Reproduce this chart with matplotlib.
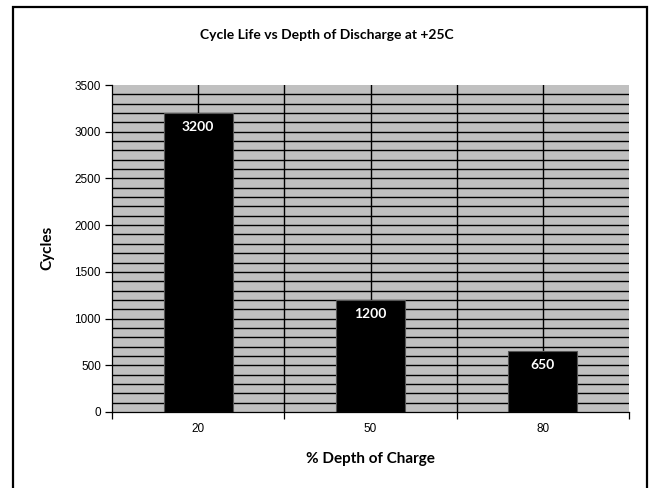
import matplotlib
matplotlib.use("Agg")
import matplotlib.pyplot as plt
from matplotlib.patches import Rectangle
import numpy as np

# data
depth = ["20", "50", "80"]
cycles = [3200, 1200, 650]

TITLE_FONT = ["Lato", "DejaVu Sans"]
TICK_FONT = ["Liberation Sans", "DejaVu Sans"]

fig = plt.figure(figsize=(6.53, 4.88), dpi=100)
ax = fig.add_axes([112 / 653, 1 - 412 / 488, 517 / 653, 327 / 488])

# outer chart border (Excel style frame)
fig.patches.append(Rectangle((13 / 653, -0.05), (647 - 13) / 653, 1.05 - 7 / 488,
                             transform=fig.transFigure, fill=False,
                             edgecolor="black", lw=1.6))

x = np.arange(len(depth))
ax.set_facecolor("#c0c0c0")
ax.set_xlim(-0.5, len(depth) - 0.5)
ax.set_ylim(0, 3500)

# horizontal gridlines every 100, vertical ones every half category
for yv in np.arange(100, 3500, 100):
    ax.axhline(yv, color="black", lw=1.0, zorder=1)
for xv in np.arange(0, len(depth) - 0.5, 0.5):
    ax.axvline(xv, color="black", lw=1.0, zorder=1)

ax.bar(x, cycles, width=0.4, color="black", edgecolor="#555555", lw=0.8, zorder=2)
for xi, c in zip(x, cycles):
    ax.text(xi, c - 85, str(c), ha="center", va="top", color="white",
            fontsize=10, fontweight="bold", family=TITLE_FONT, zorder=3)

ax.set_yticks(np.arange(0, 3501, 500))
ax.set_yticklabels([str(v) for v in range(0, 3501, 500)], family=TICK_FONT, fontsize=8.5)
ax.set_xticks(np.arange(-0.5, len(depth), 1.0))
ax.set_xticklabels([])
ax.set_xticks(x, minor=True)
ax.set_xticklabels(depth, minor=True, family=TICK_FONT, fontsize=8.5)
ax.tick_params(axis="x", which="minor", length=0, pad=8)
ax.tick_params(axis="x", which="major", length=5, width=0.9, direction="out")
ax.tick_params(axis="y", length=5, width=0.9, direction="out", pad=3)

for side in ["top", "right"]:
    ax.spines[side].set_visible(False)
ax.spines["left"].set_linewidth(0.9)
ax.spines["bottom"].set_linewidth(0.9)

fig.text(0.5, 1 - 35 / 488, "Cycle Life vs Depth of Discharge at +25C", ha="center",
         va="center", fontsize=10, fontweight="bold", family=TITLE_FONT)
fig.text(370 / 653, 1 - 459 / 488, "% Depth of Charge", ha="center", va="center",
         fontsize=11, fontweight="bold", family=TITLE_FONT)
fig.text(47 / 653, 1 - 248 / 488, "Cycles", ha="center", va="center", rotation=90,
         fontsize=11, fontweight="bold", family=TITLE_FONT)

fig.savefig("out.png", dpi=100, facecolor="white")
